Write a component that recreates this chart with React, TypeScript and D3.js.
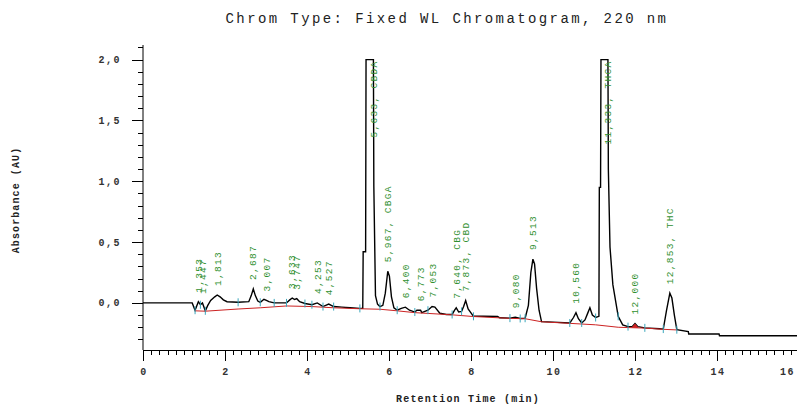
import React, { useEffect, useRef } from 'react';
import * as d3 from 'd3';

// Chromatogram trace (min, AU)
const retentionTimes = [
  0.0, 1.2, 1.27, 1.35, 1.4, 1.45, 1.52, 1.58, 1.65, 1.75, 1.81, 1.88, 1.96, 2.05, 2.32, 2.58, 2.64, 2.69,
  2.74, 2.8, 2.86, 2.95, 3.01, 3.07, 3.2, 3.5, 3.58, 3.64, 3.7, 3.75, 3.82, 3.95, 4.12, 4.25, 4.39, 4.53,
  4.65, 4.85, 5.05, 5.29, 5.36, 5.37, 5.43, 5.44, 5.62, 5.63, 5.67, 5.72, 5.78, 5.85, 5.91, 5.97, 6.01,
  6.06, 6.12, 6.2, 6.3, 6.4, 6.5, 6.63, 6.68, 6.77, 6.8, 6.95, 7.05, 7.12, 7.24, 7.4, 7.54, 7.6, 7.64,
  7.7, 7.77, 7.82, 7.87, 7.93, 8.06, 8.3, 8.65, 8.7, 8.95, 9.08, 9.2, 9.32, 9.4, 9.46, 9.51, 9.55, 9.6,
  9.66, 9.72, 10.0, 10.41, 10.5, 10.56, 10.62, 10.7, 10.78, 10.84, 10.9, 10.96, 11.04, 11.12, 11.13,
  11.16, 11.17, 11.34, 11.35, 11.39, 11.46, 11.59, 11.7, 11.83, 11.93, 12.0, 12.07, 12.24, 12.6, 12.69,
  12.77, 12.85, 12.9, 12.96, 13.02, 13.3, 13.31, 14.05, 14.06, 16.0,
];
const absorbance = [
  0.0, 0.0, -0.06, 0.01, -0.015, 0.0, -0.065, -0.02, 0.02, 0.05, 0.065, 0.05, 0.025, 0.01, 0.005, 0.01, 0.06, 0.115,
  0.06, 0.015, 0.005, 0.03, 0.02, 0.01, 0.0, 0.0, 0.025, 0.04, 0.028, 0.035, 0.01, -0.005, -0.015, 0.0, -0.03, -0.01,
  -0.03, -0.035, -0.04, -0.045, -0.045, 0.42, 0.42, 2.0, 2.0, 0.96, 0.06, -0.01, -0.03, -0.02, 0.08, 0.26, 0.22,
  0.05, -0.04, -0.06, -0.045, -0.035, -0.06, -0.075, -0.06, -0.06, -0.08, -0.06, -0.03, -0.035, -0.085, -0.095, -0.095, -0.06, -0.04,
  -0.075, -0.07, -0.03, 0.02, -0.05, -0.11, -0.11, -0.112, -0.122, -0.125, -0.118, -0.128, -0.126, -0.02, 0.25, 0.36, 0.32, 0.12,
  -0.06, -0.154, -0.158, -0.165, -0.12, -0.08, -0.13, -0.165, -0.14, -0.09, -0.04, -0.1, -0.12, -0.11, 0.95,
  0.95, 2.0, 2.0, 1.1, 0.46, 0.15, -0.11, -0.18, -0.195, -0.195, -0.17, -0.195, -0.205, -0.212, -0.215,
  -0.06, 0.08, 0.04, -0.1, -0.22, -0.235, -0.255, -0.255, -0.27, -0.27,
];

// integration baseline (red)
const baselineTimes = [1.27, 1.52, 2.32, 2.86, 3.5, 4.12, 4.65, 5.29, 5.78, 6.2, 6.63, 7.54, 8.06, 8.95, 9.32, 9.72, 10.41, 11.04, 11.59, 12.24, 12.69, 13.02];
const baselineValues = [-0.065, -0.068, -0.05, -0.04, -0.025, -0.03, -0.04, -0.048, -0.052, -0.065, -0.08, -0.098, -0.112, -0.127, -0.13, -0.155, -0.168, -0.18, -0.2, -0.207, -0.217, -0.222];

// peak start / end marks
const boundaryTimes = [1.27, 1.4, 1.52, 2.32, 2.86, 3.2, 3.5, 3.95, 4.12, 4.39, 4.65, 5.29, 5.78, 6.2, 6.63, 6.95, 7.54, 7.77, 8.06, 8.95, 9.2, 9.32, 10.41, 10.7, 11.04, 11.59, 11.83, 12.24, 12.69, 13.02];

const peakTimes = [1.353, 1.447, 1.813, 2.687, 3.007, 3.633, 3.747, 4.253, 4.527, 5.633, 5.967, 6.4, 6.773, 7.053, 7.64, 7.873, 9.08, 9.513, 10.56, 11.333, 12.0, 12.853];
const peakLabels = [
  '1,353', '1,447', '1,813', '2,687', '3,007', '3,633', '3,747', '4,253', '4,527', '5,633, CBDA', '5,967, CBGA',
  '6,400', '6,773', '7,053', '7,640, CBG', '7,873, CBD', '9,080', '9,513', '10,560', '11,333, THCA', '12,000', '12,853, THC',
];

const xTicks = [0, 2, 4, 6, 8, 10, 12, 14, 16];
const yTicks = [0, 0.5, 1.0, 1.5, 2.0];
const yTickLabels = ['0,0', '0,5', '1,0', '1,5', '2,0'];

const MONO = "'Liberation Mono', 'DejaVu Sans Mono', monospace";

export default function App() {
  const ref = useRef<SVGSVGElement>(null);

  useEffect(() => {
    if (!ref.current) return;
    const svg = d3.select(ref.current);
    svg.selectAll('*').remove();

    const x = d3.scaleLinear().domain([0, 16]).range([143, 799]);
    const y = d3.scaleLinear().domain([-0.387, 2.12]).range([350, 45]);

    const bis = d3.bisector((d: number) => d).left;
    const valueAt = (t: number) => {
      const i = bis(retentionTimes, t);
      if (i <= 0) return absorbance[0];
      if (i >= retentionTimes.length) return absorbance[absorbance.length - 1];
      const t0 = retentionTimes[i - 1], t1 = retentionTimes[i];
      return absorbance[i - 1] + (absorbance[i] - absorbance[i - 1]) * (t - t0) / (t1 - t0);
    };

    // title
    svg.append('text')
      .attr('x', 447).attr('y', 23)
      .attr('text-anchor', 'middle')
      .attr('font-family', MONO).attr('font-size', 14)
      .attr('letter-spacing', 2.4)
      .attr('fill', '#222')
      .text('Chrom Type: Fixed WL Chromatogram, 220 nm');

    // axes lines
    svg.append('line').attr('x1', 143).attr('x2', 143).attr('y1', 45).attr('y2', 350)
      .attr('stroke', '#000').attr('stroke-width', 1);
    svg.append('line').attr('x1', 143).attr('x2', 797).attr('y1', 350.5).attr('y2', 350.5)
      .attr('stroke', '#000').attr('stroke-width', 1);

    // y ticks
    const yMinor = d3.range(-3, 22).map(i => i / 10);
    svg.append('g').selectAll('line').data(yMinor).join('line')
      .attr('x1', d => (Math.abs(d * 2 - Math.round(d * 2)) < 1e-6 ? 132 : 138))
      .attr('x2', 143)
      .attr('y1', d => Math.round(y(d)) + 0.5).attr('y2', d => Math.round(y(d)) + 0.5)
      .attr('stroke', '#000').attr('stroke-width', 1);
    svg.append('g').selectAll('text').data(yTicks).join('text')
      .attr('x', 121).attr('y', d => y(d) + 3.5)
      .attr('text-anchor', 'end')
      .attr('font-family', MONO).attr('font-size', 10).attr('font-weight', 'bold')
      .attr('letter-spacing', 1.5)
      .attr('fill', '#333')
      .text((d, i) => yTickLabels[i]);

    // x ticks
    const xMinor = d3.range(0, 81).map(i => i * 0.2);
    svg.append('g').selectAll('line').data(xMinor).join('line')
      .attr('x1', d => Math.round(x(d)) + 0.5).attr('x2', d => Math.round(x(d)) + 0.5)
      .attr('y1', 350)
      .attr('y2', (d, i) => (i % 10 === 0 ? 361 : 355))
      .attr('stroke', '#000').attr('stroke-width', 1);
    svg.append('g').selectAll('text').data(xTicks).join('text')
      .attr('x', d => Math.min(x(d) + 1, 795))
      .attr('y', 375)
      .attr('text-anchor', d => (x(d) + 1 > 785 ? 'end' : 'middle'))
      .attr('font-family', MONO).attr('font-size', 10).attr('font-weight', 'bold')
      .attr('letter-spacing', 1.5)
      .attr('fill', '#333')
      .text(d => String(d));

    // axis titles
    svg.append('text')
      .attr('x', 468).attr('y', 402)
      .attr('text-anchor', 'middle')
      .attr('font-family', MONO).attr('font-size', 10).attr('font-weight', 'bold')
      .attr('letter-spacing', 1.2)
      .attr('fill', '#222')
      .text('Retention Time (min)');
    svg.append('text')
      .attr('transform', 'translate(19,200) rotate(-90)')
      .attr('text-anchor', 'middle')
      .attr('font-family', MONO).attr('font-size', 10).attr('font-weight', 'bold')
      .attr('letter-spacing', 1.1)
      .attr('fill', '#222')
      .text('Absorbance (AU)');

    // trace
    const pts = retentionTimes.map((t, i) => [t, absorbance[i]] as [number, number]);
    const line = d3.line<[number, number]>().x(d => x(d[0])).y(d => y(d[1]));
    svg.append('path').attr('d', line(pts)!)
      .attr('fill', 'none').attr('stroke', '#000').attr('stroke-width', 1.4);

    // small filled peak at 12,000
    const fillPts = pts.filter(d => d[0] >= 11.93 && d[0] <= 12.07);
    const blAt = (t: number) => {
      const i = bis(baselineTimes, t);
      if (i <= 0) return baselineValues[0];
      if (i >= baselineTimes.length) return baselineValues[baselineValues.length - 1];
      const t0 = baselineTimes[i - 1], t1 = baselineTimes[i];
      return baselineValues[i - 1] + (baselineValues[i] - baselineValues[i - 1]) * (t - t0) / (t1 - t0);
    };
    const area = d3.area<[number, number]>()
      .x(d => x(d[0])).y1(d => y(d[1])).y0(d => y(blAt(d[0])));
    svg.append('path').attr('d', area(fillPts)!).attr('fill', '#cc2020');

    // baseline
    const bl = baselineTimes.map((t, i) => [t, baselineValues[i]] as [number, number]);
    svg.append('path').attr('d', line(bl)!)
      .attr('fill', 'none').attr('stroke', '#cc2222').attr('stroke-width', 1);

    // boundary marks
    svg.append('g').selectAll('line').data(boundaryTimes).join('line')
      .attr('x1', d => x(d)).attr('x2', d => x(d))
      .attr('y1', d => y(valueAt(d)) - 4).attr('y2', d => y(valueAt(d)) + 4)
      .attr('stroke', '#3ba7bd').attr('stroke-width', 1);

    // peak labels
    const g = svg.append('g');
    peakTimes.forEach((t, i) => {
      let apex = valueAt(t);
      retentionTimes.forEach((rt, j) => {
        if (Math.abs(rt - t) <= 0.04) apex = Math.max(apex, absorbance[j]);
      });
      const clipped = apex >= 2.0;
      const ly = clipped ? y(2.0) + 1 : y(apex) - 9;
      g.append('text')
        .attr('transform', `translate(${x(t)},${ly}) rotate(-90)`)
        .attr('dy', '0.35em')
        .attr('text-anchor', clipped ? 'end' : 'start')
        .attr('font-family', MONO).attr('font-size', 9.5)
        .attr('letter-spacing', 1.3)
        .attr('fill', '#2f8f2f')
        .text(peakLabels[i]);
    });
  }, []);

  return (
    <svg
      ref={ref}
      width={797}
      height={410}
      style={{ position: 'absolute', left: 0, top: 0, background: '#fff' }}
    />
  );
}
